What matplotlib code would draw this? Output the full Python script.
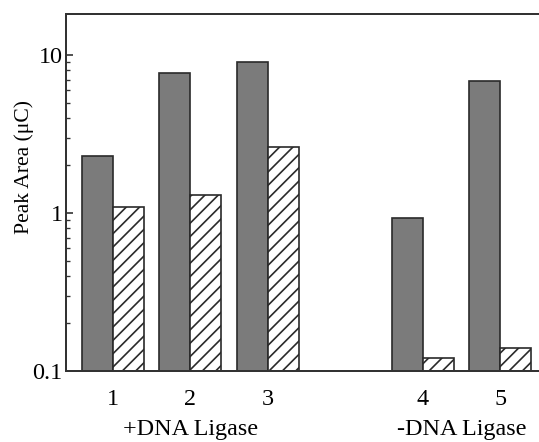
import numpy as np
import matplotlib.pyplot as plt
import matplotlib.transforms as mtransforms
from matplotlib.ticker import LogLocator, NullFormatter

plt.rcParams['font.family'] = ['Liberation Serif', 'DejaVu Serif']
plt.rcParams['hatch.linewidth'] = 1.0
plt.rcParams['hatch.color'] = '#222222'

# Datos
muestras = ['1', '2', '3', '4', '5']
posiciones = [0, 1, 2, 4, 5]
area_gris = [2.3, 7.7, 9.0, 0.93, 6.9]
area_rayada = [1.1, 1.31, 2.6, 0.12, 0.14]
grupos = ['+DNA Ligase', '-DNA Ligase']
centro_grupos = [1, 4.5]

fig = plt.figure(figsize=(539 / 120, 442 / 120), dpi=120)
ax = fig.add_axes([66 / 539, 71 / 442, 1 - 66 / 539, 357 / 442])

ancho = 0.4
x = np.array(posiciones)
ax.bar(x - ancho / 2, area_gris, width=ancho, color='#7b7b7b',
       edgecolor='#2a2a2a', linewidth=1.0)
ax.bar(x + ancho / 2, area_rayada, width=ancho, color='white',
       edgecolor='#2a2a2a', linewidth=1.0, hatch='///')

ax.set_yscale('log')
ax.set_ylim(0.1, 18.2)
ax.set_xlim(-0.603, 5.5)

ax.set_yticks([0.1, 1, 10], labels=['0.1', '1', '10'])
ax.yaxis.set_minor_locator(LogLocator(base=10, subs=np.arange(2, 10)))
ax.yaxis.set_minor_formatter(NullFormatter())
ax.tick_params(axis='y', which='major', direction='in', length=4.2,
               width=1.0, pad=2, labelsize=14.5, color='#333333')
ax.tick_params(axis='y', which='minor', direction='in', length=2.4,
               width=0.8, color='#333333')

ax.set_xticks(x, labels=muestras)
ax.tick_params(axis='x', length=0, pad=11, labelsize=14.5)

for lado in ['left', 'top', 'bottom']:
    ax.spines[lado].set_linewidth(1.2)
    ax.spines[lado].set_color('#333333')
ax.spines['right'].set_visible(False)

ax.set_ylabel('Peak Area (μC)', fontsize=13)
ax.yaxis.set_label_coords(-0.068, 0.571)

trans = mtransforms.blended_transform_factory(ax.transData, fig.transFigure)
for nombre, cx in zip(grupos, centro_grupos):
    ax.text(cx, 12 / 442, nombre, transform=trans, ha='center', va='center',
            fontsize=14.5)

fig.savefig('out.png', dpi=120)
